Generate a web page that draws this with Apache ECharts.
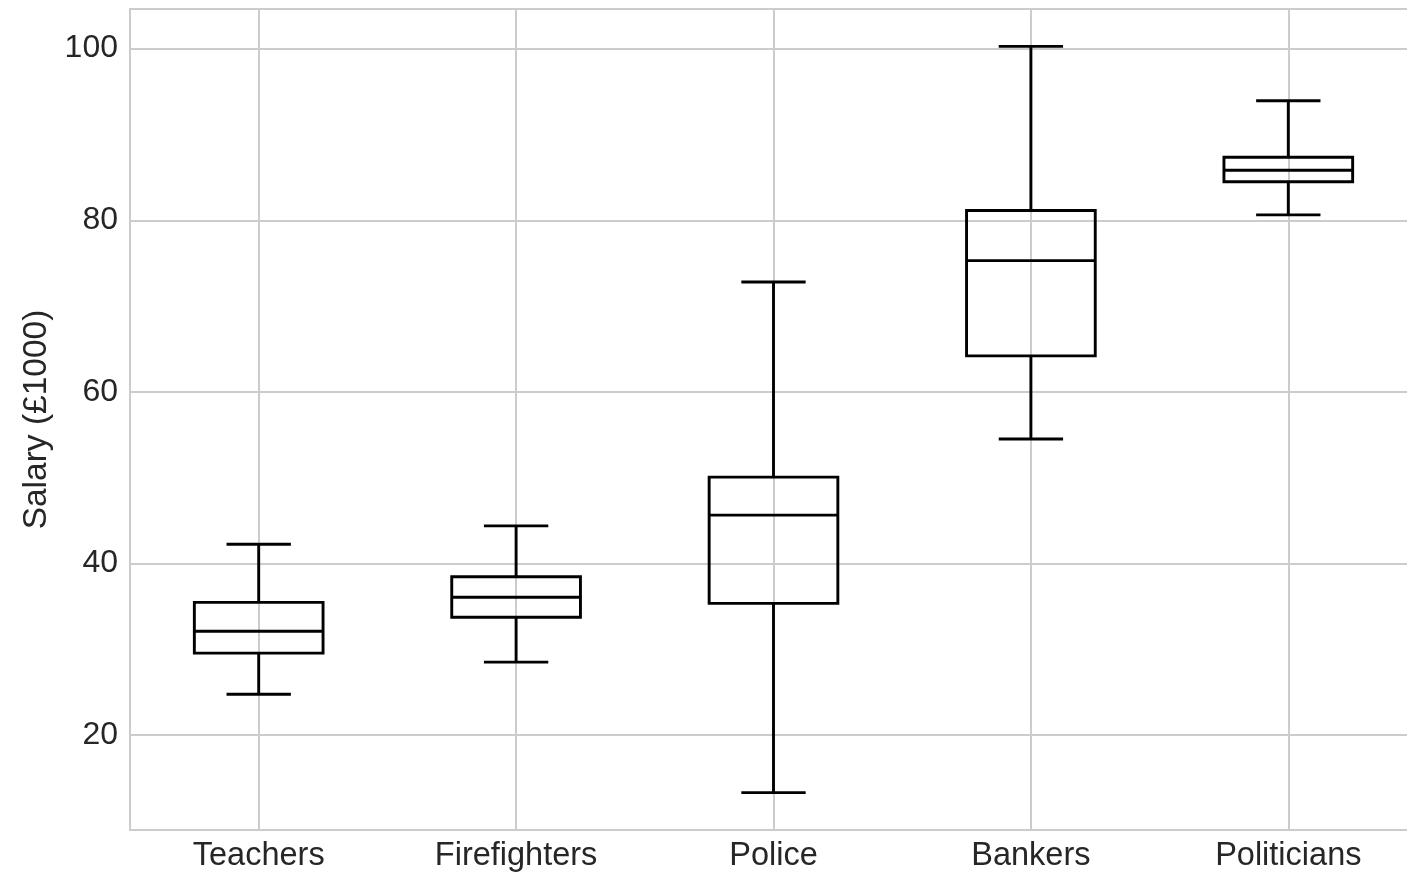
<!DOCTYPE html>
<html>
<head>
<meta charset="utf-8">
<script src="https://cdn.jsdelivr.net/npm/echarts@6/dist/echarts.min.js"></script>
<style>
html,body{margin:0;padding:0;background:#fff;}
#chart{width:1407px;height:874px;}
</style>
</head>
<body>
<div id="chart"></div>
<script>
const categories = ['Teachers', 'Firefighters', 'Police', 'Bankers', 'Politicians'];
const whiskerLow = [24.76, 28.51, 13.29, 54.5, 80.63];
const q1 = [29.55, 33.73, 35.35, 64.2, 84.48];
const median = [32.1, 36.06, 45.63, 75.3, 85.83];
const q3 = [35.47, 38.46, 50.07, 81.13, 87.35];
const whiskerHigh = [42.25, 44.38, 72.8, 100.27, 93.93];
const yTicks = [20, 40, 60, 80, 100];

const data = categories.map((c, i) => [i + 1, whiskerLow[i], q1[i], median[i], q3[i], whiskerHigh[i]]);

const FONT = '"Liberation Sans", Arial, sans-serif';
const GRID = '#cccccc';
const TXT = '#262626';

const chart = echarts.init(document.getElementById('chart'), null, {renderer: 'canvas'});
chart.setOption({
  animation: false,
  backgroundColor: '#fff',
  grid: {left: 130, width: 1287, top: 9, bottom: 44, show: true, borderColor: GRID, borderWidth: 2,
         containLabel: false, outerBoundsMode: 'none'},
  xAxis: {
    type: 'value', min: 0.5, max: 5.5,
    axisLine: {show: true, lineStyle: {color: GRID, width: 2}},
    axisTick: {show: false},
    splitLine: {show: true, lineStyle: {color: GRID, width: 2}},
    axisLabel: {
      color: TXT, fontFamily: FONT, fontSize: 32.5, margin: 10,
      showMinLabel: false, showMaxLabel: false,
      formatter: v => (Number.isInteger(v) && categories[v - 1]) ? categories[v - 1] : ''
    }
  },
  yAxis: {
    type: 'value', min: 8.94, max: 104.62, splitNumber: 5,
    name: 'Salary (£1000)', nameLocation: 'middle', nameGap: 73,
    nameTextStyle: {color: TXT, fontFamily: FONT, fontSize: 33.5},
    axisLine: {show: true, lineStyle: {color: GRID, width: 2}},
    axisTick: {show: false},
    splitLine: {show: true, lineStyle: {color: GRID, width: 2}},
    axisLabel: {
      color: TXT, fontFamily: FONT, fontSize: 32, margin: 12,
      showMinLabel: false, showMaxLabel: false,
      formatter: v => yTicks.includes(Math.round(v * 1000) / 1000) ? String(v) : ''
    }
  },
  series: [{
    type: 'custom',
    data: data,
    encode: {x: 0, y: [1, 2, 3, 4, 5]},
    renderItem: function (params, api) {
      const x = api.value(0);
      const lo = api.coord([x, api.value(1)]);
      const b1 = api.coord([x, api.value(2)]);
      const md = api.coord([x, api.value(3)]);
      const b3 = api.coord([x, api.value(4)]);
      const hi = api.coord([x, api.value(5)]);
      const unit = api.size([1, 0])[0];
      const bw = unit * 0.25, cw = unit * 0.125;
      const cx = lo[0];
      const st = {stroke: '#000', lineWidth: 2.9, fill: null, lineCap: 'butt', lineJoin: 'miter'};
      const line = (x1, y1, x2, y2) => ({type: 'line', shape: {x1, y1, x2, y2}, style: st});
      return {
        type: 'group',
        children: [
          {type: 'rect', shape: {x: cx - bw, y: b3[1], width: bw * 2, height: b1[1] - b3[1]}, style: {stroke: '#000', lineWidth: 2.9, fill: 'none'}},
          line(cx - bw, md[1], cx + bw, md[1]),
          line(cx, b1[1], cx, lo[1]),
          line(cx, b3[1], cx, hi[1]),
          line(cx - cw, lo[1], cx + cw, lo[1]),
          line(cx - cw, hi[1], cx + cw, hi[1])
        ]
      };
    }
  }]
});
</script>
</body>
</html>
